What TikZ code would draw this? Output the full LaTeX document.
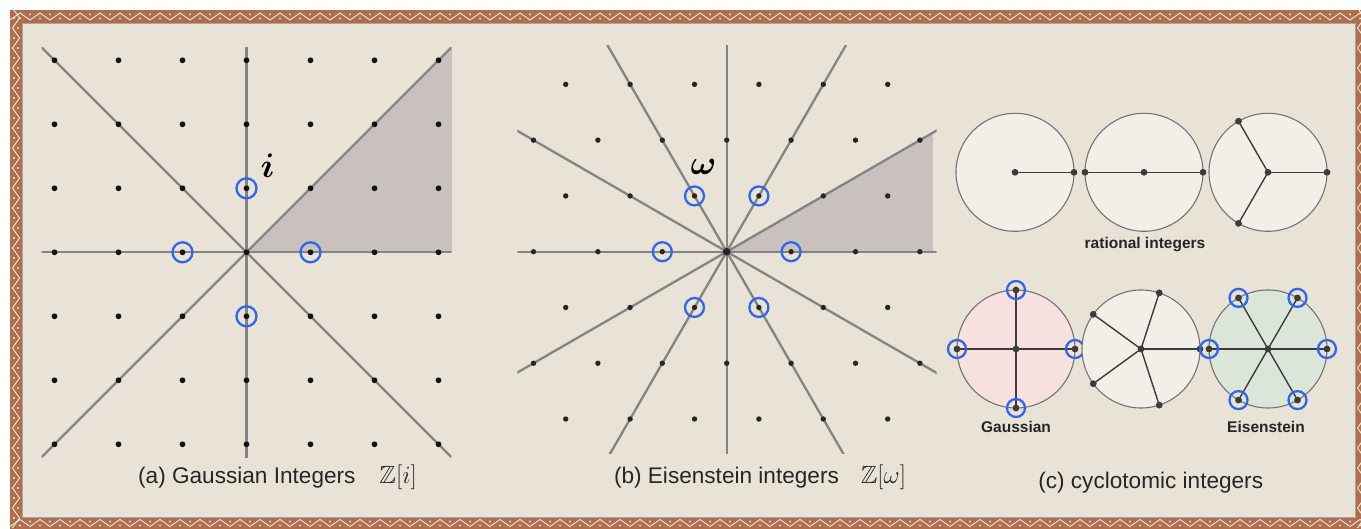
\documentclass[tikz,border=0pt]{standalone}
\usepackage{amsmath, amssymb, bm}
\usepackage[no-math]{fontspec}
\setmainfont{Liberation Sans}
\usepackage{tikz}
\usepackage{xcolor}
\usetikzlibrary{positioning}
\definecolor{parch}{RGB}{233, 227, 215}
\definecolor{frameb}{RGB}{176, 110, 76}
\definecolor{axgray}{RGB}{132, 132, 132}
\definecolor{wedgec}{RGB}{200, 193, 189}
\definecolor{ublue}{RGB}{52, 102, 228}
\definecolor{diskw}{RGB}{242, 239, 233}
\definecolor{diskp}{RGB}{246, 224, 224}
\definecolor{diskg}{RGB}{219, 229, 218}
\definecolor{spk}{RGB}{60, 60, 60}

\begin{document}
\begin{tikzpicture}[x=1pt,y=1pt,
          axis/.style={draw=axgray,line width=2.3pt},
          unitring/.style={draw=ublue,line width=2.3pt},
          disk/.style={draw=black!55,line width=1.1pt},
          spoke/.style={draw=spk,line width=1.4pt},
          zig/.style={draw=white!85!frameb,line width=0.9pt},
          biglab/.style={font=\fontsize{24.88}{26}\selectfont,scale=1.37},
          captxt/.style={font=\fontsize{22.6}{25}\selectfont,text=black!85},
          boldtag/.style={font=\fontsize{15.5}{18}\selectfont\bfseries,text=black!85}]
        \useasboundingbox (0,0) rectangle (1361,528);
        \clip (0,0) rectangle (1361,528);
        \fill[white] (0,0) rectangle (1361,528);
        % frame
        \fill[frameb] (10,-12) rectangle (1375,518);
        \draw[zig] (10,508) \foreach \x in {20,40,...,1360}{ -- (\x,515) -- (\x+10,508) };
        \draw[zig] (10,1.5) \foreach \x in {20,40,...,1360}{ -- (\x,8.5) -- (\x+10,1.5) };
        \draw[zig] (12.5,0) \foreach \y in {10,30,...,510}{ -- (19.5,\y) -- (12.5,\y+10) };
        \draw[zig] (1357.5,0) \foreach \y in {10,30,...,510}{ -- (1364.5,\y) -- (1357.5,\y+10) };
        \foreach \x in {20,40,...,1360}{
          \fill[white!85!frameb] (\x,509.6) circle (1.1);
          \fill[white!85!frameb] (\x+10,513.6) circle (1.1);
          \fill[white!85!frameb] (\x,2.6) circle (1.1);
          \fill[white!85!frameb] (\x+10,6.6) circle (1.1);
        }
        \foreach \y in {10,30,...,510}{
          \fill[white!85!frameb] (14,\y) circle (1.1);
          \fill[white!85!frameb] (18,\y+10) circle (1.1);
        }
        \fill[parch] (22,11) rectangle (1355,505);
        \draw[black!35,line width=0.8pt] (22,11) rectangle (1355,505);

        % (a) Gaussian lattice
        \begin{scope}[shift={(246.5,275.7)},x=64pt,y=64pt]
          \fill[wedgec] (0,0) -- (3.21,0) -- (3.21,3.21) -- cycle;
          \begin{scope}
            \clip (-3.2,-3.2) rectangle (3.2,3.2);
            \foreach \a in {0,45,90,135}
              \draw[axis] (\a:-5) -- (\a:5);
          \end{scope}
          \foreach \i in {-3,...,3}
            \foreach \j in {-3,...,3}
              \fill[black!92] (\i,\j) circle (2.9pt);
          \foreach \a in {0,90,180,270}
            \draw[unitring] (\a:1) circle (10pt);
          \node[biglab] (ilab) at (0.33,1.36) {$\bm{i}$};
        \end{scope}
        \node[captxt] (capa) at (277.5,50.5)
          {(a) Gaussian Integers\hspace{24pt}{\fontsize{24.88}{26}\selectfont$\mathbb{Z}[i]$}};

        % (b) Eisenstein lattice
        \begin{scope}[shift={(726.7,276.3)},x=64.4pt,y=64.4pt]
          \fill[wedgec] (0,0) -- (3.2,0) -- (3.2,{3.2*tan(30)}) -- cycle;
          \begin{scope}
            \clip (-3.25,-3.14) rectangle (3.26,3.2);
            \foreach \a in {0,30,...,150}
              \draw[axis] (\a:-5) -- (\a:5);
          \end{scope}
          \foreach \j in {-2,0,2}
            \foreach \k in {-3,...,3}
              \fill[black!85] (\k,{\j*sqrt(3)/2}) circle (2.7pt);
          \foreach \j in {-3,-1,1,3}
            \foreach \k in {-2.5,-1.5,...,2.5}
              \fill[black!85] (\k,{\j*sqrt(3)/2}) circle (2.7pt);
          \fill[black!85] (0,0) circle (3.8pt);
          \foreach \a in {0,60,...,300}
            \draw[unitring] (\a:1) circle (9.5pt);
          \node[biglab] (wlab) at (-0.36,1.32) {$\bm{\omega}$};
        \end{scope}
        \node[captxt] (capb) at (760,50.5)
          {(b) Eisenstein integers\hspace{22pt}{\fontsize{24.88}{26}\selectfont$\mathbb{Z}[\omega]$}};

        % (c) roots of unity on the unit circle
        \foreach \cx/\cy/\n/\col/\rg [count=\c] in
            {1015/355.7/1/diskw/0, 1144/355.7/2/diskw/0, 1268/355.7/3/diskw/0,
             1016/179/4/diskp/1, 1141/179/5/diskw/0, 1268/179/6/diskg/1}{
          \coordinate (o\c) at (\cx,\cy);
          \draw[disk,fill=\col] (o\c) circle (59);
          \foreach \m in {1,...,\n}{
            \path (o\c) ++({360*(\m-1)/\n}:59) coordinate (r\c-\m);
            \draw[spoke] (o\c) -- (r\c-\m);
            \fill[spk] (r\c-\m) circle (3.4);
            \ifnum\rg=1 \draw[unitring] (r\c-\m) circle (9); \fi
          }
          \fill[spk] (o\c) circle (3.4);
        }
        \node[boldtag] (rat) at (1145,283) {rational integers};
        \node[boldtag] (gau) at (1016,101.3) {Gaussian};
        \node[boldtag] (eis) at (1266,101.3) {Eisenstein};
        \node[captxt] (capc) at (1150.7,45.5) {(c) cyclotomic integers};
      \end{tikzpicture}
\end{document}
